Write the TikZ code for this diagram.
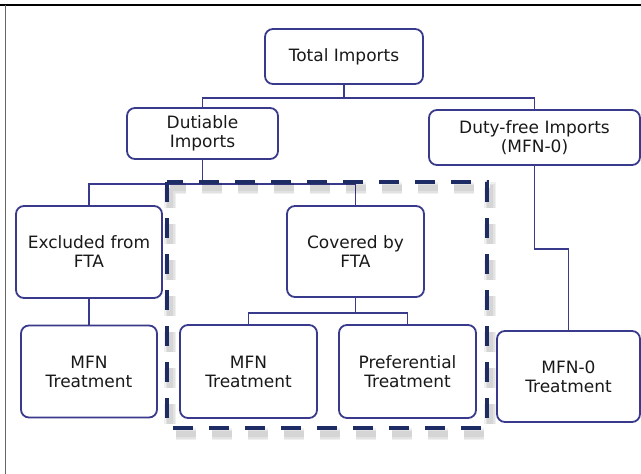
\documentclass[tikz,border=0pt]{standalone}
\usepackage{fontspec}
\setmainfont{DejaVu Sans}
\usepackage{tikz}
\usetikzlibrary{positioning}
\definecolor{boxBlue}{RGB}{58,58,140}
\definecolor{ftaNavy}{RGB}{30,44,102}
\newcommand\busDrop{13}
\tikzset{
    box/.style =       {draw=boxBlue, line width=1.8pt, rounded corners=8pt, align=center,
                        font=\fontsize{17}{19}\selectfont, text=black!90, inner sep=2pt},
    link/.style =      {draw=boxBlue, line width=1.5pt},
    ftaFrame/.style =  {draw=ftaNavy, line width=4.5pt, dash pattern=on 20pt off 16pt},
    ftaShadow/.style = {draw=black, opacity=0.06, dash pattern=on 20pt off 16pt},
    node distance=2cm
}

\begin{document}
\begin{tikzpicture}[x=1pt,y=-1pt]
  \useasboundingbox (0,0) rectangle (641,474);

  % page edges
  \draw [black, line width=1.8pt] (0,5) -- (641,5);
  \draw [black!60, line width=1pt] (5,5) -- (5,474);

  % boxes, top row
  \node [box, minimum width=158pt, minimum height=55pt] (total) at (344,56.5) {Total Imports};

  % boxes, second row
  \node [box, minimum width=151pt, minimum height=51pt] (dutiable) at (202.5,133.5) {Dutiable\\Imports};
  \node [box, minimum width=211pt, minimum height=55pt] (dutyFree) at (534.5,137.5) {Duty-free Imports\\(MFN-0)};

  % boxes, third row
  \node [box, minimum width=146pt, minimum height=92pt] (excluded) at (89,252) {Excluded from\\FTA};
  \node [box, minimum width=137pt, minimum height=91pt] (covered) at (355.5,251.5) {Covered by\\FTA};

  % boxes, bottom row
  \node [box, minimum width=136pt, minimum height=92pt] (mfnLeft) at (89,371.5) {MFN\\Treatment};
  \node [box, minimum width=137pt, minimum height=93pt] (mfnMid) at (248.5,371.5) {MFN\\Treatment};
  \node [box, minimum width=137pt, minimum height=93pt] (preferential) at (407.5,371.5) {Preferential\\Treatment};
  \node [box, minimum width=143pt, minimum height=91pt] (mfnZero) at (568.5,376.5) {MFN-0\\Treatment};

  % connectors
  \foreach \child in {dutiable,dutyFree}
    \draw [link] (total.south) -- ++(0,\busDrop) -| (\child.north);
  \foreach \child in {excluded,covered}
    \draw [link] (dutiable.south) -- ++(0,24) -| (\child.north);
  \foreach \child in {mfnMid,preferential}
    \draw [link] (covered.south) -- ++(0,15) -| (\child.north);
  \draw [link] (excluded.south) -- (mfnLeft.north);
  \draw [link] (dutyFree.south) -- ++(0,83) -| (mfnZero.north);

  % FTA group, soft shadow first
  \foreach \w in {12,9,6}
    \draw [ftaShadow, line width=\w pt, shift={(3,6)}] (167,182) rectangle (487,428);
  \draw [ftaFrame] (167,182) rectangle (487,428);
\end{tikzpicture}
\end{document}
